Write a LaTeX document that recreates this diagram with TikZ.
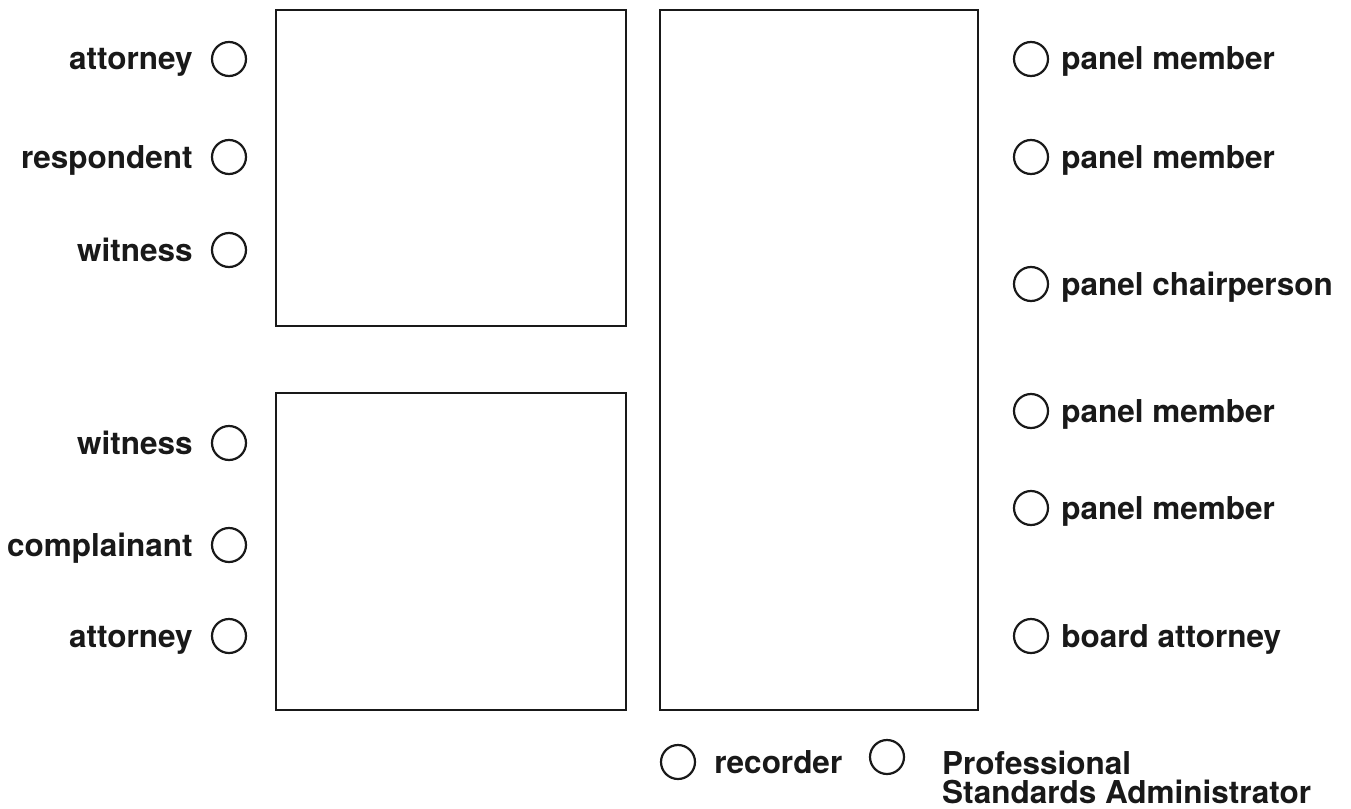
\documentclass[tikz,border=0pt]{standalone}
\usepackage{fontspec}
\setmainfont{TeX Gyre Heros}
\usetikzlibrary{positioning}
\tikzset{
  tbl/.style={line width=2.4pt,black!90},
  seat/.style={circle,draw=black!90,line width=2.2pt,minimum size=34pt,inner sep=0pt},
  role/.style={font=\fontsize{31.5}{29}\selectfont\bfseries,text=black!90,
    inner sep=0pt,text height=22pt,text depth=0pt},
}
\begin{document}
\begin{tikzpicture}[x=1pt,y=-1pt]
  \useasboundingbox (0,0) rectangle (1351,808);
  % tables
  \draw[tbl] (276,10) rectangle (626,326);
  \draw[tbl] (276,393) rectangle (626,710);
  \draw[tbl] (660,10) rectangle (978,710);
  % left side seats
  \node[seat] (la) at (229,59) {};
  \node[seat] (lr) at (229,157) {};
  \node[seat] (lw) at (229,250) {};
  \node[seat] (lv) at (229,443) {};
  \node[seat] (lc) at (229,545) {};
  \node[seat] (lb) at (229,636) {};
  \node[role,left=18pt of la] {attorney};
  \node[role,left=18pt of lr] {respondent};
  \node[role,left=18pt of lw] {witness};
  \node[role,left=18pt of lv] {witness};
  \node[role,left=18pt of lc] {complainant};
  \node[role,left=18pt of lb] {attorney};
  % panel side seats
  \node[seat] (p1) at (1031,59) {};
  \node[seat] (p2) at (1031,157) {};
  \node[seat] (pc) at (1031,284) {};
  \node[seat] (p3) at (1031,411) {};
  \node[seat] (p4) at (1031,508) {};
  \node[seat] (ba) at (1031,636) {};
  \node[role,right=12pt of p1] {panel member};
  \node[role,right=12pt of p2] {panel member};
  \node[role,right=12pt of pc] {panel chairperson};
  \node[role,right=12pt of p3] {panel member};
  \node[role,right=12pt of p4] {panel member};
  \node[role,right=12pt of ba] {board attorney};
  % bottom seats
  \node[seat] (rec) at (678,762) {};
  \node[seat] (psa) at (887,757) {};
  \node[role,right=18pt of rec] {recorder};
  \node[role,align=left,anchor=north west,text height=] (psat) at (942,751) {Professional\\Standards Administrator};
\end{tikzpicture}
\end{document}
